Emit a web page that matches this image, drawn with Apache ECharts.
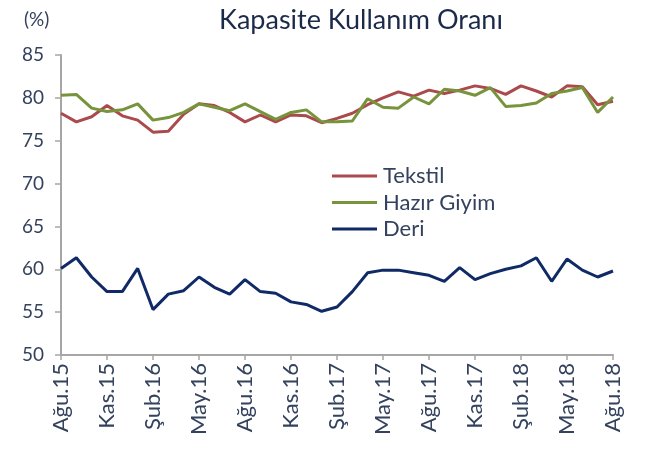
<!DOCTYPE html>
<html>
<head>
<meta charset="utf-8">
<script src="https://cdn.jsdelivr.net/npm/echarts@6/dist/echarts.min.js"></script>
<style>
  html, body { margin: 0; padding: 0; background: #fff; }
  #chart { width: 646px; height: 453px; }
</style>
</head>
<body>
<div id="chart"></div>
<script>
// Monthly periods, Ağu.15 – Ağu.18
const months = [
  'Ağu.15','Eyl.15','Eki.15','Kas.15','Ara.15','Oca.16','Şub.16','Mar.16','Nis.16',
  'May.16','Haz.16','Tem.16','Ağu.16','Eyl.16','Eki.16','Kas.16','Ara.16','Oca.17',
  'Şub.17','Mar.17','Nis.17','May.17','Haz.17','Tem.17','Ağu.17','Eyl.17','Eki.17',
  'Kas.17','Ara.17','Oca.18','Şub.18','Mar.18','Nis.18','May.18','Haz.18','Tem.18','Ağu.18'
];

// Capacity utilisation rates (%)
const tekstil = [
  78.2, 77.2, 77.8, 79.1, 77.9, 77.4, 76.0, 76.1, 78.1, 79.3, 79.1, 78.3, 77.2,
  78.0, 77.2, 78.0, 77.9, 77.1, 77.6, 78.2, 79.2, 80.0, 80.7, 80.2, 80.9, 80.5,
  80.9, 81.4, 81.1, 80.4, 81.4, 80.8, 80.1, 81.4, 81.3, 79.2, 79.6
];
const hazirGiyim = [
  80.3, 80.4, 78.8, 78.4, 78.6, 79.3, 77.4, 77.7, 78.3, 79.3, 78.9, 78.5, 79.3,
  78.4, 77.5, 78.3, 78.6, 77.2, 77.2, 77.3, 79.9, 78.9, 78.8, 80.1, 79.3, 81.0,
  80.8, 80.3, 81.2, 79.0, 79.1, 79.4, 80.5, 80.8, 81.2, 78.3, 80.1
];
const deri = [
  60.1, 61.35, 59.1, 57.4, 57.4, 60.1, 55.3, 57.1, 57.5, 59.1, 57.9, 57.1, 58.8,
  57.4, 57.2, 56.2, 55.9, 55.1, 55.6, 57.4, 59.6, 59.9, 59.9, 59.6, 59.3, 58.6,
  60.2, 58.8, 59.5, 60.0, 60.4, 61.35, 58.6, 61.2, 59.9, 59.1, 59.8
];

const seriesNames = ['Tekstil', 'Hazır Giyim', 'Deri'];
const seriesColors = ['#ab4a4a', '#77933c', '#0f2a66'];

const textColor = '#34425e';
const axisColor = '#a6a6a6';
const font = 'Lato';

const chart = echarts.init(document.getElementById('chart'), null, { renderer: 'canvas' });

chart.setOption({
  animation: false,
  backgroundColor: '#ffffff',
  title: [
    {
      text: 'Kapasite Kullanım Oranı',
      left: 356,
      textAlign: 'center',
      top: 2,
      textStyle: { fontFamily: font, fontSize: 27, fontWeight: 'normal', color: '#1c2a4a' }
    },
    {
      text: '(%)',
      left: 19,
      top: 5,
      textStyle: { fontFamily: font, fontSize: 19, fontWeight: 'normal', color: textColor }
    }
  ],
  legend: {
    orient: 'vertical',
    left: 327,
    top: 160,
    itemWidth: 45,
    itemHeight: 3,
    itemGap: 4.5,
    icon: 'rect',
    data: seriesNames,
    textStyle: { fontFamily: font, fontSize: 22, color: textColor, lineHeight: 19, padding: [0, 0, 0, 1] }
  },
  grid: { left: 61, right: 33, top: 55, bottom: 98, containLabel: false },
  xAxis: {
    type: 'category',
    data: months,
    boundaryGap: false,
    axisLine: { lineStyle: { color: axisColor, width: 2 } },
    axisTick: { interval: 2, length: 5, lineStyle: { color: axisColor, width: 1.5 } },
    axisLabel: {
      interval: 2,
      rotate: 90,
      margin: 8,
      fontFamily: font,
      fontSize: 22,
      color: textColor
    },
    splitLine: { show: false }
  },
  yAxis: {
    type: 'value',
    min: 50,
    max: 85,
    interval: 5,
    axisLine: { show: true, lineStyle: { color: axisColor, width: 2 } },
    axisTick: { show: true, length: 6, lineStyle: { color: axisColor, width: 1.5 } },
    axisLabel: { fontFamily: font, fontSize: 19, color: textColor, margin: 17 },
    splitLine: { show: false }
  },
  series: [
    { name: seriesNames[0], data: tekstil },
    { name: seriesNames[1], data: hazirGiyim },
    { name: seriesNames[2], data: deri }
  ].map((s, i) => ({
    name: s.name,
    type: 'line',
    data: s.data,
    showSymbol: false,
    symbol: 'none',
    color: seriesColors[i],
    lineStyle: { width: 3, color: seriesColors[i] }
  }))
});
</script>
</body>
</html>
